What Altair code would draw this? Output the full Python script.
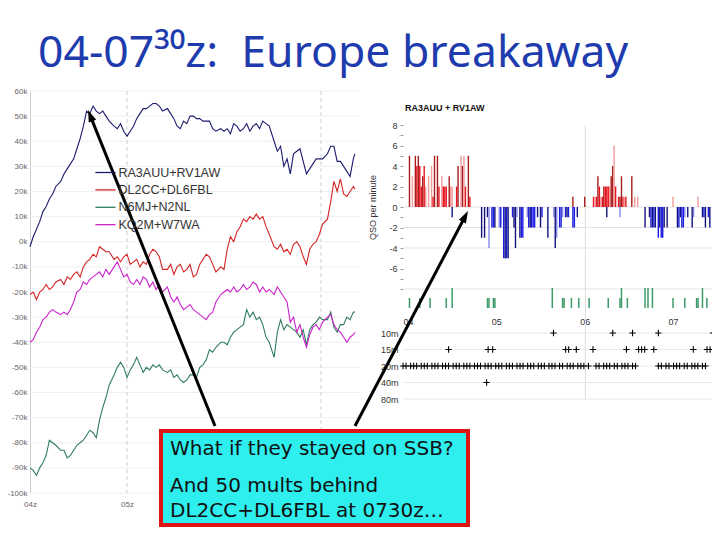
import altair as alt
import pandas as pd

# ---------------- left chart: score gap (k points) vs minutes after 04z ----------------
T = [0, 2, 4, 6, 8, 10, 12, 14, 16, 19, 21, 23, 25, 27, 29, 31, 33, 35, 37, 39,
     41, 43, 45, 47, 49, 52, 54, 56, 58, 60, 62, 64, 66, 68, 70, 72, 74, 76, 78, 80,
     82, 85, 87, 89, 91, 93, 95, 97, 99, 101, 103, 105, 107, 109, 111, 113, 115, 118, 120, 122,
     124, 126, 128, 130, 132, 134, 136, 138, 140, 142, 144, 146, 148, 151, 153, 155, 157, 159, 161, 163,
     165, 167, 169, 171, 173, 175, 177, 179, 181, 184, 186, 188, 190, 192, 194, 196, 198, 200, 201]

SERIES = ["RA3AUU+RV1AW", "DL2CC+DL6FBL", "N6MJ+N2NL", "KQ2M+W7WA"]
RA3AUU = [-2, 2, 5, 8, 12, 14, 17, 19, 22, 24, 27, 29, 31, 33, 37, 41, 46, 52, 51, 54,
          52, 51, 52, 50, 48, 46, 45, 47, 44, 42, 44, 46, 49, 51, 53, 53, 54, 55, 55, 54,
          52, 53, 51, 49, 46, 45, 48, 47, 50, 50, 49, 49, 48, 48, 48, 45, 44, 45, 44, 45,
          43, 47, 46, 44, 45, 47, 44, 46, 47, 45, 48, 47, 46, 40, 36, 38, 30, 33, 27, 35,
          36, 37, 32, 27, 29, 31, 33, 33, 33, 35, 38, 38, 32, 32, 30, 28, 26, 33, 35]
DL2CC = [-21, -20, -23, -20, -19, -17, -19, -18, -16, -15, -17, -14, -15, -13, -12, -14, -10, -8, -7, -5,
         -6, -2, -3, -4, -4, -7, -6, -8, -6, -5, -9, -8, -7, -10, -8, -9, -5, -3, -4, -6,
         -11, -11, -9, -13, -10, -9, -12, -11, -9, -14, -13, -9, -7, -5, -6, -9, -12, -10, -11, -3,
         2, 0, 4, 6, 9, 8, 10, 9, 11, 9, 10, 6, 3, -2, -3, -1, -4, -3, -5, -1,
         0, -2, -6, -9, -3, -1, 0, 3, 7, 9, 16, 24, 20, 25, 19, 18, 20, 22, 21]
N6MJ = [-90, -91, -93, -90, -88, -85, -79, -80, -81, -83, -83, -86, -85, -83, -81, -80, -79, -77, -75, -76,
        -78, -71, -66, -62, -57, -53, -50, -48, -50, -54, -51, -49, -46, -49, -52, -50, -51, -49, -50, -49,
        -51, -52, -51, -54, -53, -55, -56, -55, -53, -53, -54, -50, -49, -47, -43, -44, -42, -40, -40, -41,
        -38, -36, -35, -34, -33, -27, -30, -28, -31, -30, -33, -38, -40, -46, -36, -31, -35, -33, -34, -35,
        -36, -38, -35, -41, -35, -33, -32, -30, -31, -31, -28, -34, -36, -33, -33, -30, -31, -28, -28]
KQ2M = [-40, -39, -36, -34, -31, -30, -28, -27, -28, -29, -28, -29, -27, -24, -20, -19, -16, -17, -15, -14,
        -13, -12, -14, -11, -13, -10, -8, -11, -14, -13, -16, -17, -15, -17, -14, -15, -18, -16, -19, -17,
        -20, -18, -22, -24, -22, -25, -27, -26, -25, -27, -28, -29, -30, -31, -29, -28, -24, -21, -20, -19,
        -20, -18, -20, -19, -17, -19, -18, -16, -17, -20, -18, -20, -19, -21, -18, -20, -22, -24, -32, -30,
        -36, -33, -38, -42, -37, -34, -33, -35, -32, -30, -29, -33, -35, -36, -38, -40, -38, -37, -36]
LINE_COLORS = ["#1b1b6e", "#d42424", "#2f7d5e", "#cc22cc"]
Y_TICKS_K = [-100, -90, -80, -70, -60, -50, -40, -30, -20, -10, 0, 10, 20, 30, 40, 50, 60]
LEFT_HOUR_LABELS = [0, 60]
HOURS = [0, 60, 120, 180]
LEFT_VGRID = [60, 180]

# ---------------- right chart: QSO per minute (minutes after 04z) ----------------
POS = [(1, 5, "d"), (3, 3, "l"), (5, 5, "d"), (6, 4, "m"), (7, 5, "d"), (8, 4, "m"), (9, 2, "m"),
       (10, 3, "d"), (11, 4, "m"), (12, 2, "l"), (14, 3, "l"), (16, 4, "l"), (17, 1, "m"), (18, 5, "d"),
       (20, 5, "d"), (21, 2, "m"), (23, 3, "l"), (24, 2, "m"), (25, 2, "m"), (26, 2, "m"), (28, 3, "d"),
       (29, 2, "l"), (30, 2, "l"), (33, 2, "m"), (34, 4, "d"), (36, 5, "l"), (37, 4, "d"), (38, 5, "l"),
       (39, 2, "m"), (41, 5, "d"), (42, 1, "m"),
       (112, 1, "d"), (120, 1, "d"), (126, 1, "m"), (127, 1, "l"), (128, 1, "m"), (129, 3, "d"),
       (130, 2, "m"), (131, 1, "l"), (132, 1, "m"), (133, 2, "d"), (134, 2, "m"), (135, 2, "m"),
       (136, 2, "m"), (137, 2, "l"), (138, 3, "d"), (139, 4, "d"), (140, 6, "l"), (141, 2, "m"),
       (143, 1, "m"), (144, 1, "d"), (145, 3, "d"), (146, 1, "m"), (147, 1, "l"), (148, 1, "m"),
       (152, 3, "d"), (154, 1, "l"), (156, 1, "l"), (180, 1, "l"), (197, 1, "l"), (208, 1, "l")]
NEG = [(30, -1, "d"), (50, -3, "d"), (52, -3, "d"), (54, -1, "d"), (55, -4, "l"), (57, -2, "m"),
       (58, -2, "m"), (59, -2, "d"), (62, -2, "l"), (63, -2, "m"), (65, -5, "m"), (66, -5, "d"),
       (67, -5, "m"), (68, -5, "d"), (71, -1, "m"), (72, -2, "d"), (73, -4, "d"), (74, -1, "l"),
       (76, -3, "d"), (77, -3, "m"), (78, -3, "m"), (81, -1, "l"), (82, -2, "m"), (83, -2, "d"),
       (84, -2, "m"), (85, -2, "m"), (86, -2, "m"), (88, -1, "d"), (90, -2, "d"), (91, -1, "m"),
       (95, -3, "d"), (99, -1, "l"), (100, -4, "d"), (101, -3, "l"), (103, -2, "m"), (104, -2, "m"),
       (105, -1, "l"), (107, -1, "m"), (108, -1, "d"), (109, -1, "m"), (112, -2, "m"), (113, -2, "m"),
       (115, -1, "d"), (135, -1, "d"), (144, -1, "l"), (161, -2, "d"), (164, -1, "d"), (165, -2, "m"),
       (166, -2, "d"), (167, -2, "m"), (168, -2, "d"), (170, -3, "m"), (171, -2, "d"), (172, -3, "m"),
       (173, -3, "m"), (174, -2, "d"), (176, -2, "d"), (183, -2, "d"), (184, -2, "m"), (185, -1, "d"),
       (186, -2, "m"), (187, -2, "m"), (188, -1, "l"), (190, -1, "d"), (193, -2, "d"), (194, -1, "l"),
       (200, -1, "d"), (201, -1, "m"), (202, -2, "d"), (204, -1, "m"), (205, -2, "d")]
GREEN = [(1, 1), (8, 1), (15, 1), (26, 1), (30, 2), (54, 1), (55, 1), (58, 1), (59, 1), (98, 2),
         (105, 1), (106, 1), (111, 1), (116, 1), (123, 1), (136, 1), (144, 1), (145, 2), (149, 1),
         (161, 2), (163, 2), (166, 2), (180, 1), (188, 1), (196, 1), (197, 1), (200, 2), (203, 1)]
BANDS = ["10m", "15m", "20m", "40m", "80m"]
BAND_10 = [99, 138, 151, 168, 204, 206, 208]
BAND_15 = [30, 56, 59, 107, 109, 114, 125, 147, 155, 157, 159, 165, 191, 200, 202]
BAND_20 = [0, 2, 5, 7, 9, 12, 14, 16, 19, 21, 23, 26, 28, 30, 33, 35, 37, 40, 42, 44, 47, 49, 51,
           54, 56, 58, 61, 63, 65, 68, 70, 72, 75, 77, 79, 82, 84, 86, 89, 91, 93, 96, 98, 100,
           103, 105, 108, 110, 112, 115, 117, 119, 122, 127, 129, 132, 134, 136, 139, 141, 144,
           146, 148, 151, 153, 168, 170, 173, 175, 178, 180, 182, 185, 187, 190, 192, 194, 197, 199]
BAND_40 = [55]
BAND_80 = []

BAR_CODES = ["pd", "pm", "pl", "nd", "nm", "nl"]
BAR_COLORS = ["#a81c1c", "#e8161e", "#f29a9a", "#12127a", "#1c1ce0", "#8a8ae8"]

# ---------------- data frames ----------------
lines_df = pd.DataFrame({
    "t": T * 4,
    "v": RA3AUU + DL2CC + N6MJ + KQ2M,
    "s": [s for s in SERIES for _ in T],
})
bars_df = pd.DataFrame(
    [{"m": m, "q": q, "c": "p" + g} for m, q, g in POS] +
    [{"m": m, "q": q, "c": "n" + g} for m, q, g in NEG]
)
green_df = pd.DataFrame([{"m": m, "h": h} for m, h in GREEN])
band_df = pd.DataFrame(
    [{"m": m, "b": "10m"} for m in BAND_10] + [{"m": m, "b": "15m"} for m in BAND_15] +
    [{"m": m, "b": "20m"} for m in BAND_20] + [{"m": m, "b": "40m"} for m in BAND_40] +
    [{"m": m, "b": "80m"} for m in BAND_80]
)
one = pd.DataFrame({"k": [0]})

# ---------------- scales (pixel ranges inside a 704x524 canvas) ----------------
XL = alt.Scale(domain=[0, 210], range=[22, 361.5], nice=False)
YL = alt.Scale(domain=[-100, 60], range=[485, 83], nice=False)
XR = alt.Scale(domain=[0, 210], range=[395, 714.2], nice=False)
YR = alt.Scale(domain=[-8, 8], range=[281, 117], nice=False)
YG = alt.Scale(domain=[0, 2], range=[300, 280], nice=False)
YB = alt.Scale(type="point", domain=BANDS, range=[325, 391], padding=0)

SMALL = "Liberation Sans"

# ---------------- left chart layers ----------------
l_hgrid = alt.Chart(pd.DataFrame({"v": Y_TICKS_K})).mark_rule(color="#efefef", strokeWidth=1).encode(
    y=alt.Y("v:Q", scale=YL, axis=None), x=alt.value(22), x2=alt.value(352))
l_vgrid = alt.Chart(pd.DataFrame({"t": LEFT_VGRID})).mark_rule(
    color="#cfcfcf", strokeWidth=1, strokeDash=[4, 3]).encode(
    x=alt.X("t:Q", scale=XL, axis=None), y=alt.value(83), y2=alt.value(485))
l_lines = alt.Chart(lines_df).mark_line(strokeWidth=1.1).encode(
    x=alt.X("t:Q", scale=XL, axis=alt.Axis(
        orient="bottom", offset=-39, values=LEFT_HOUR_LABELS, labelFlush=False,
        labelExpr="'0' + (4 + datum.value / 60) + 'z'", grid=False, domain=False, ticks=False,
        labelPadding=7, labelFontSize=8, labelColor="#666", title=None)),
    y=alt.Y("v:Q", scale=YL, axis=alt.Axis(
        orient="left", offset=-22, values=Y_TICKS_K, labelExpr="datum.value + 'k'",
        grid=False, ticks=False, domainColor="#cccccc", labelPadding=3, labelFontSize=8,
        labelColor="#666", title=None)),
    color=alt.Color("s:N", scale=alt.Scale(domain=SERIES, range=LINE_COLORS),
                    legend=alt.Legend(orient="none", legendX=90.5, legendY=157.5, title=None,
                                      symbolType="M-1.6,0L1.6,0", symbolSize=160,
                                      symbolStrokeWidth=1.3,
                                      labelFontSize=12.5, labelColor="#333", labelFont=SMALL,
                                      rowPadding=3.4, labelOffset=6)),
)

# ---------------- right chart layers ----------------
r_grid = alt.Chart(pd.DataFrame({"q": [0, -2, -4, -8]})).mark_rule(color="#e4e4e4").encode(
    y=alt.Y("q:Q", scale=YR, axis=None), x=alt.value(395), x2=alt.value(712))
r_vline = alt.Chart(pd.DataFrame({"m": [120]})).mark_rule(color="#dddddd").encode(
    x=alt.X("m:Q", scale=XR, axis=None), y=alt.value(117), y2=alt.value(392))
r_bars = alt.Chart(bars_df).mark_bar(size=1.4).encode(
    x=alt.X("m:Q", scale=XR, axis=None),
    y=alt.Y("q:Q", scale=YR, axis=alt.Axis(
        orient="left", offset=-395, values=list(range(-8, 9)),
        labelExpr="datum.value % 2 == 0 && datum.value > -8 ? datum.value : ''",
        tickSize=3, tickColor="#999", domain=False, grid=False, labelFontSize=9,
        labelColor="#333", labelPadding=3, title="QSO per minute", titleFontSize=9,
        titleFontWeight="normal", titleColor="#333", titlePadding=11)),
    color=alt.Color("c:N", scale=alt.Scale(domain=BAR_CODES, range=BAR_COLORS), legend=None),
)
r_title = alt.Chart(one).mark_text(text="RA3AUU + RV1AW", align="left", baseline="middle",
                                   fontSize=9, fontWeight="bold", font=SMALL, color="#111").encode(
    x=alt.value(397), y=alt.value(100))
r_green = alt.Chart(green_df).mark_bar(size=1.5, color="#3d9b68").encode(
    x=alt.X("m:Q", scale=XR, axis=alt.Axis(
        orient="bottom", offset=-215, values=HOURS, labelFlush=False,
        labelExpr="'0' + (4 + datum.value / 60)", grid=False, domain=False, ticks=False,
        labelPadding=0, labelFontSize=9, labelColor="#333", title=None)),
    y=alt.Y("h:Q", scale=YG, axis=None),
)
r_bgrid = alt.Chart(pd.DataFrame({"b": BANDS})).mark_rule(color="#e8e8e8").encode(
    y=alt.Y("b:N", scale=YB, axis=None), x=alt.value(395), x2=alt.value(712))
r_band = alt.Chart(band_df).mark_point(shape="M-1,0L1,0M0,-1L0,1", size=40, filled=False,
                                      strokeWidth=1.1, color="#000", opacity=1).encode(
    x=alt.X("m:Q", scale=XR, axis=None),
    y=alt.Y("b:N", scale=YB, axis=alt.Axis(
        orient="left", offset=-395, ticks=False, domain=False, grid=False, labelFontSize=9,
        labelColor="#333", labelPadding=5, title=None)),
)

# ---------------- annotations ----------------
box = alt.Chart(one).mark_rect(fill="#2eeeee", stroke="#dd1414", strokeWidth=4).encode(
    x=alt.value(153), x2=alt.value(460), y=alt.value(423), y2=alt.value(517))
box_texts = [
    ("What if they stayed on SSB?", 447),
    ("And 50 mults behind", 484),
    ("DL2CC+DL6FBL at 0730z\u2026", 509),
]
box_layers = [
    alt.Chart(one).mark_text(text=txt, align="left", baseline="alphabetic", fontSize=20,
                             font="DejaVu Sans", color="#111").encode(x=alt.value(162), y=alt.value(yy))
    for txt, yy in box_texts
]
arrow1 = alt.Chart(one).mark_rule(color="#000", strokeWidth=3).encode(
    x=alt.value(207), y=alt.value(418), x2=alt.value(82.2), y2=alt.value(107.6))
head1 = alt.Chart(one).mark_point(shape="M0,0L-1,3L1,3Z", size=64, filled=True, color="#000",
                                  opacity=1, angle=338).encode(x=alt.value(80), y=alt.value(102))
arrow2 = alt.Chart(one).mark_rule(color="#000", strokeWidth=3).encode(
    x=alt.value(347), y=alt.value(418), x2=alt.value(457.2), y2=alt.value(208.3))
head2 = alt.Chart(one).mark_point(shape="M0,0L-1,3L1,3Z", size=64, filled=True, color="#000",
                                  opacity=1, angle=28).encode(x=alt.value(460), y=alt.value(203))
title = alt.Chart(one).mark_text(text="04-07\u00b3\u2070z:\u00a0\u00a0Europe breakaway", align="left",
                                 baseline="alphabetic", fontSize=44.5, font="Noto Sans",
                                 color="#1f3cae").encode(x=alt.value(30), y=alt.value(59))

chart = alt.layer(
    l_hgrid, l_vgrid, l_lines,
    r_grid, r_vline, r_bars, r_title, r_green, r_bgrid, r_band,
    box, *box_layers, arrow1, head1, arrow2, head2, title,
).resolve_scale(
    x="independent", y="independent", color="independent"
).properties(
    width=704, height=524, padding=0, autosize=alt.AutoSizeParams(type="none")
).configure_view(strokeWidth=0).configure_axis(labelFont=SMALL, titleFont=SMALL)

chart.save("out.html", embed_options={"renderer": "svg", "actions": False})
